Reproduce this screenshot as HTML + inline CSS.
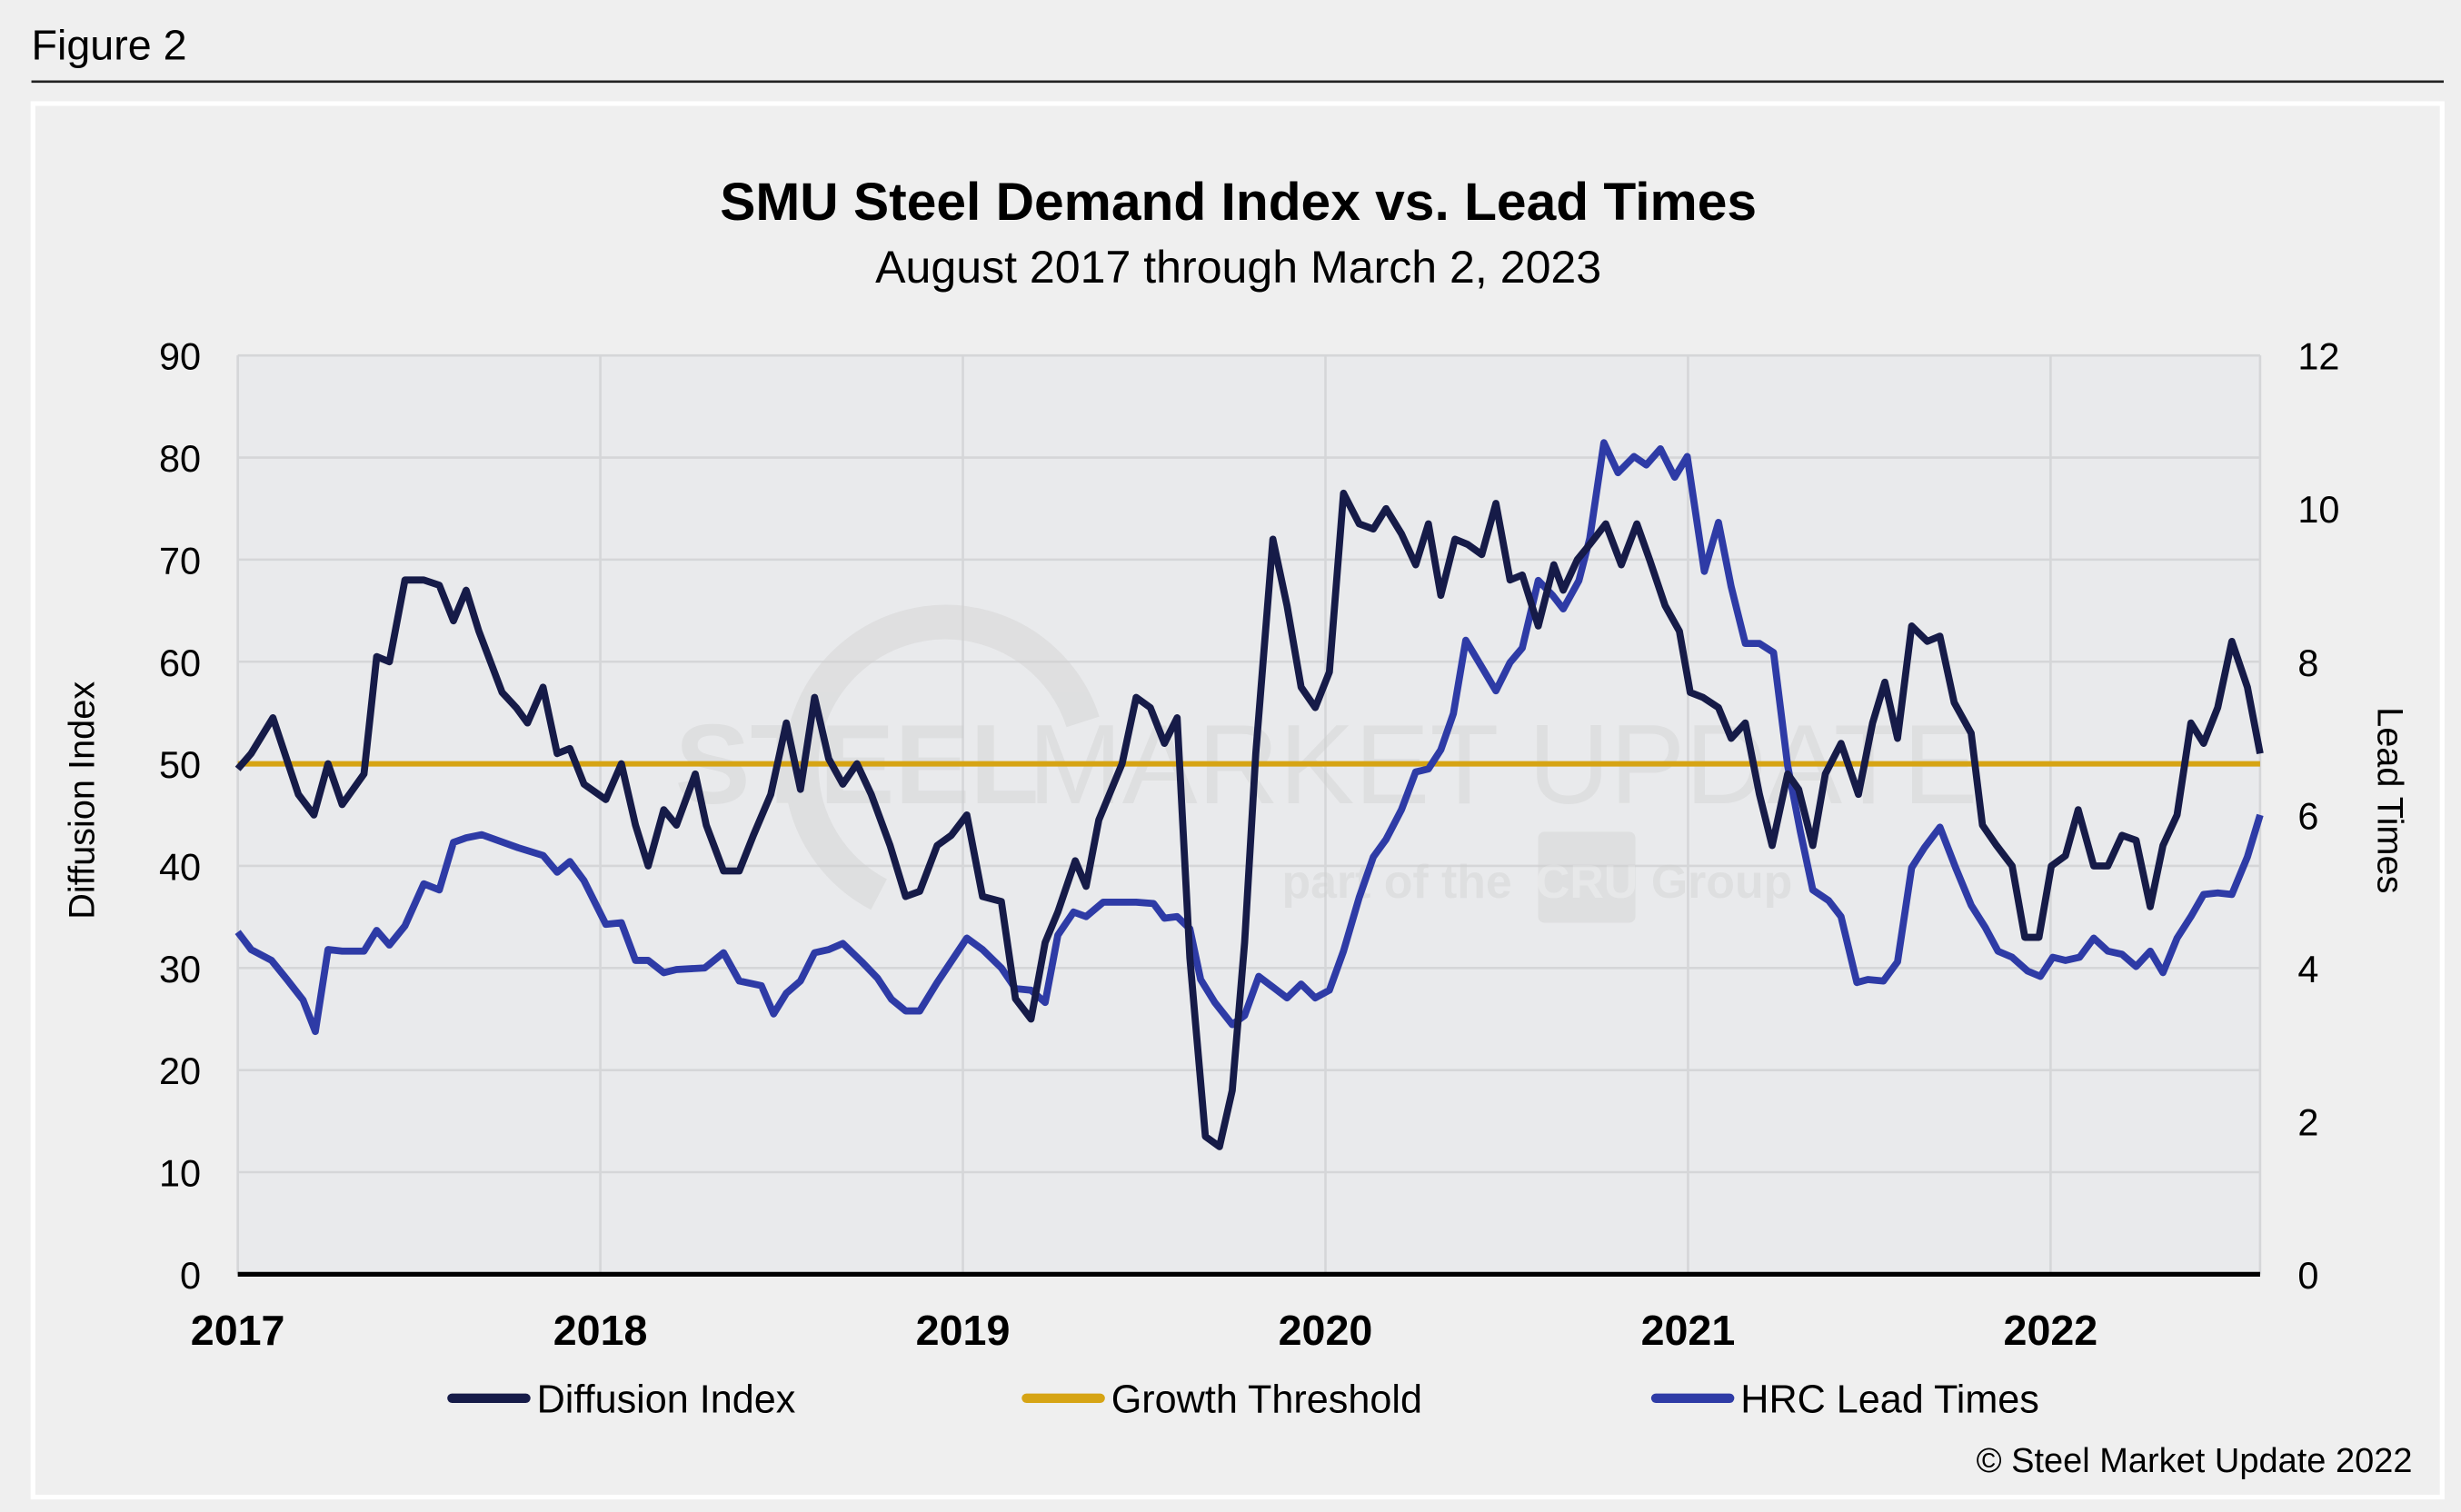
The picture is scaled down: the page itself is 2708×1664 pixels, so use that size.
<!DOCTYPE html>
<html><head><meta charset="utf-8"><style>
html,body{margin:0;padding:0;background:#efefef;}
svg{display:block;font-family:"Liberation Sans",Arial,sans-serif;}
</style></head><body>
<svg id="chart" width="2708" height="1664" viewBox="0 0 1568 963.5" xmlns="http://www.w3.org/2000/svg">
<rect x="0" y="0" width="1568" height="963.5" fill="#efefef"/>
<text x="20" y="38" font-size="27" fill="#000">Figure 2</text>
<line x1="20" y1="52" x2="1557" y2="52" stroke="#222" stroke-width="1.5"/>
<rect x="21" y="66" width="1535" height="888" fill="#efefef" stroke="#fff" stroke-width="3"/>
<text x="789" y="140" font-size="34" font-weight="bold" text-anchor="middle">SMU Steel Demand Index vs. Lead Times</text>
<text x="789" y="180" font-size="29" text-anchor="middle">August 2017 through March 2, 2023</text>
<rect x="151.5" y="226.5" width="1288.5" height="585.5" fill="#e9eaec"/>
<g id="grid"></g>
<g id="watermark" opacity="0.4">
<path d="M 690 460 A 92 92 0 1 0 560 570" fill="none" stroke="#cfcfcf" stroke-width="22"/>
<text x="430" y="512" font-size="72" font-weight="bold" fill="#cfcfcf">STEEL</text>
<text x="655" y="512" font-size="72" fill="#cfcfcf">MARKET UPDATE</text>
<text x="890" y="572" font-size="30" font-weight="bold" text-anchor="middle" fill="#cfcfcf">part of the</text>
<rect x="980" y="530" width="62" height="58" rx="4" fill="#d0d0d0"/>
<text x="1011" y="572" font-size="30" font-weight="bold" text-anchor="middle" fill="#e6e6e6">CRU</text>
<text x="1097" y="572" font-size="30" font-weight="bold" text-anchor="middle" fill="#cfcfcf">Group</text>
</g>
<g id="axes"></g>
<g id="series"></g>
<text transform="translate(60,510) rotate(-90)" font-size="23" text-anchor="middle">Diffusion Index</text>
<text transform="translate(1515,510) rotate(90)" font-size="23" text-anchor="middle">Lead Times</text>
<g>
<g><line x1="288" y1="891" x2="335" y2="891" stroke="#161b48" stroke-width="6" stroke-linecap="round"/><text x="342" y="900" font-size="25">Diffusion Index</text></g>
<g><line x1="654" y1="891" x2="701" y2="891" stroke="#d6a414" stroke-width="6" stroke-linecap="round"/><text x="708" y="900" font-size="25">Growth Threshold</text></g>
<g><line x1="1055" y1="891" x2="1102" y2="891" stroke="#2e3ba6" stroke-width="6" stroke-linecap="round"/><text x="1109" y="900" font-size="25">HRC Lead Times</text></g>
</g>
<text x="1537" y="938" font-size="22" text-anchor="end">© Steel Market Update 2022</text>
</svg>
<script>
const yearLabels = ["2017","2018","2019","2020","2021","2022"];
const leftTicks = [0,10,20,30,40,50,60,70,80,90];
const rightTicks = [0,2,4,6,8,10,12];
const threshold = 50;
const diT = [0,.037,.097,.167,.210,.249,.288,.348,.383,.418,.461,.513,.556,.595,.630,.665,.729,.768,.799,.842,.881,.916,.955,1.015,1.058,1.097,1.132,1.175,1.210,1.262,1.292,1.340,1.383,1.422,1.470,1.513,1.552,1.591,1.630,1.669,1.708,1.747,1.799,1.842,1.881,1.929,1.968,2.011,2.054,2.106,2.145,2.188,2.227,2.262,2.310,2.340,2.375,2.439,2.478,2.517,2.556,2.591,2.626,2.669,2.708,2.743,2.777,2.808,2.855,2.894,2.933,2.972,3.011,3.050,3.093,3.132,3.167,3.210,3.249,3.284,3.318,3.357,3.392,3.431,3.470,3.509,3.543,3.587,3.630,3.656,3.695,3.729,3.773,3.816,3.859,3.894,3.937,3.976,4.006,4.041,4.084,4.119,4.158,4.197,4.232,4.275,4.305,4.344,4.379,4.422,4.470,4.509,4.543,4.578,4.617,4.660,4.695,4.734,4.781,4.812,4.851,4.894,4.929,4.968,5.002,5.041,5.076,5.119,5.158,5.197,5.236,5.275,5.310,5.349,5.387,5.422,5.461,5.500,5.543,5.578];
const diV = [49.5,51,54.5,47,45,50,46,49,60.5,60,68,68,67.5,64,67,63,57,55.5,54,57.5,51,51.5,48,46.5,50,44,40,45.5,44,49,44,39.5,39.5,43,47,54,47.5,56.5,50.5,48,50,47,42,37,37.5,42,43,45,37,36.5,27,25,32.5,35.5,40.5,38,44.5,50,56.5,55.5,52,54.5,31,13.5,12.5,18,32.5,51,72,65.5,57.5,55.5,59,76.5,73.5,73,75,72.5,69.5,73.5,66.5,72,71.5,70.5,75.5,68,68.5,63.5,69.5,67,70,71.5,73.5,69.5,73.5,70,65.5,63,57,56.5,55.5,52.5,54,47,42,49,47.5,42,49,52,47,54,58,52.5,63.5,62,62.5,56,53,44,42,40,33,33,40,41,45.5,40,40,43,42.5,36,42,45,54,52,55.5,62,57.5,51];
const hrcT = [0,.037,.093,.136,.180,.214,.249,.288,.348,.383,.418,.461,.513,.556,.595,.630,.673,.773,.842,.881,.916,.955,1.015,1.058,1.097,1.132,1.175,1.210,1.288,1.340,1.383,1.444,1.478,1.513,1.552,1.591,1.630,1.669,1.721,1.764,1.803,1.842,1.881,1.929,2.011,2.054,2.106,2.145,2.188,2.227,2.262,2.305,2.340,2.387,2.478,2.526,2.556,2.591,2.626,2.656,2.695,2.743,2.777,2.816,2.855,2.894,2.933,2.972,3.011,3.050,3.093,3.132,3.167,3.210,3.249,3.284,3.318,3.353,3.387,3.431,3.470,3.509,3.543,3.587,3.626,3.656,3.699,3.729,3.768,3.807,3.851,3.885,3.924,3.963,3.998,4.045,4.084,4.119,4.158,4.197,4.236,4.275,4.310,4.344,4.388,4.422,4.466,4.496,4.539,4.578,4.617,4.652,4.695,4.738,4.781,4.820,4.855,4.894,4.937,4.972,5.006,5.041,5.080,5.119,5.158,5.197,5.236,5.275,5.310,5.349,5.387,5.422,5.461,5.500,5.543,5.578];
const hrcV = [4.47,4.24,4.1,3.85,3.58,3.17,4.24,4.22,4.22,4.49,4.3,4.55,5.1,5.02,5.64,5.7,5.74,5.57,5.47,5.25,5.39,5.14,4.57,4.59,4.1,4.1,3.94,3.98,4.0,4.2,3.83,3.77,3.4,3.67,3.83,4.2,4.24,4.32,4.08,3.87,3.59,3.44,3.44,3.81,4.39,4.24,4.0,3.73,3.71,3.55,4.43,4.73,4.67,4.86,4.86,4.84,4.65,4.67,4.51,3.85,3.55,3.26,3.38,3.89,3.75,3.61,3.79,3.61,3.71,4.22,4.92,5.45,5.68,6.07,6.56,6.6,6.85,7.32,8.28,7.93,7.62,7.99,8.18,9.06,8.87,8.69,9.06,9.61,10.86,10.47,10.68,10.57,10.78,10.41,10.68,9.18,9.82,8.98,8.24,8.24,8.12,6.64,5.78,5.02,4.88,4.67,3.81,3.85,3.83,4.08,5.31,5.57,5.84,5.31,4.82,4.53,4.22,4.14,3.96,3.89,4.14,4.1,4.14,4.39,4.22,4.18,4.02,4.22,3.94,4.39,4.67,4.96,4.98,4.96,5.45,6.0];

const NS='http://www.w3.org/2000/svg';
const L=151.5,R=1440,T=226.5,B=812;
const xs=t=>L+t*231;
const yl=v=>B-(v/90)*(B-T);
const yr=v=>B-(v/12)*(B-T);
function mk(tag,attrs,parent,txt){const e=document.createElementNS(NS,tag);for(const k in attrs)e.setAttribute(k,attrs[k]);if(txt!==undefined)e.textContent=txt;parent.appendChild(e);return e;}
const grid=document.getElementById('grid'),axes=document.getElementById('axes'),series=document.getElementById('series');
leftTicks.forEach(v=>{
  if(v>0){const g=mk('line',{x1:L,x2:R,y1:yl(v),y2:yl(v),stroke:'#d5d6d8','stroke-width':1.5},grid);
  
  }
  const t=mk('text',{x:128,y:yl(v)+9,'font-size':24,'text-anchor':'end'},axes,String(v));
  
  
});
rightTicks.forEach(v=>{
  const t=mk('text',{x:1464,y:yr(v)+9,'font-size':24,'text-anchor':'start'},axes,String(v));
  
  
});
yearLabels.forEach((lab,i)=>{
  const x=xs(i);
  const g=mk('line',{x1:x,x2:x,y1:T,y2:B,stroke:'#d5d6d8','stroke-width':1.5},grid);
  
  
  const t=mk('text',{x:x,y:857,'font-size':27,'font-weight':'bold','text-anchor':'middle'},axes,lab);
  
  
});
const rb=mk('line',{x1:R,x2:R,y1:T,y2:B,stroke:'#d5d6d8','stroke-width':1.5},grid);


const xa=mk('line',{x1:L,x2:R,y1:B,y2:B,stroke:'#000','stroke-width':3},axes);


const th=mk('line',{x1:L,x2:R,y1:yl(threshold),y2:yl(threshold),stroke:'#d6a414','stroke-width':3.5},series);


function pathOf(tt,vv,yf){return tt.map((t,i)=>(i?'L':'M')+xs(t).toFixed(1)+' '+yf(vv[i]).toFixed(1)).join(' ');}
const ph=mk('path',{d:pathOf(hrcT,hrcV,yr),fill:'none',stroke:'#2e3ba6','stroke-width':4.5,'stroke-linejoin':'round'},series);


const pd=mk('path',{d:pathOf(diT,diV,yl),fill:'none',stroke:'#161b48','stroke-width':4.5,'stroke-linejoin':'round'},series);


</script>
</body></html>
